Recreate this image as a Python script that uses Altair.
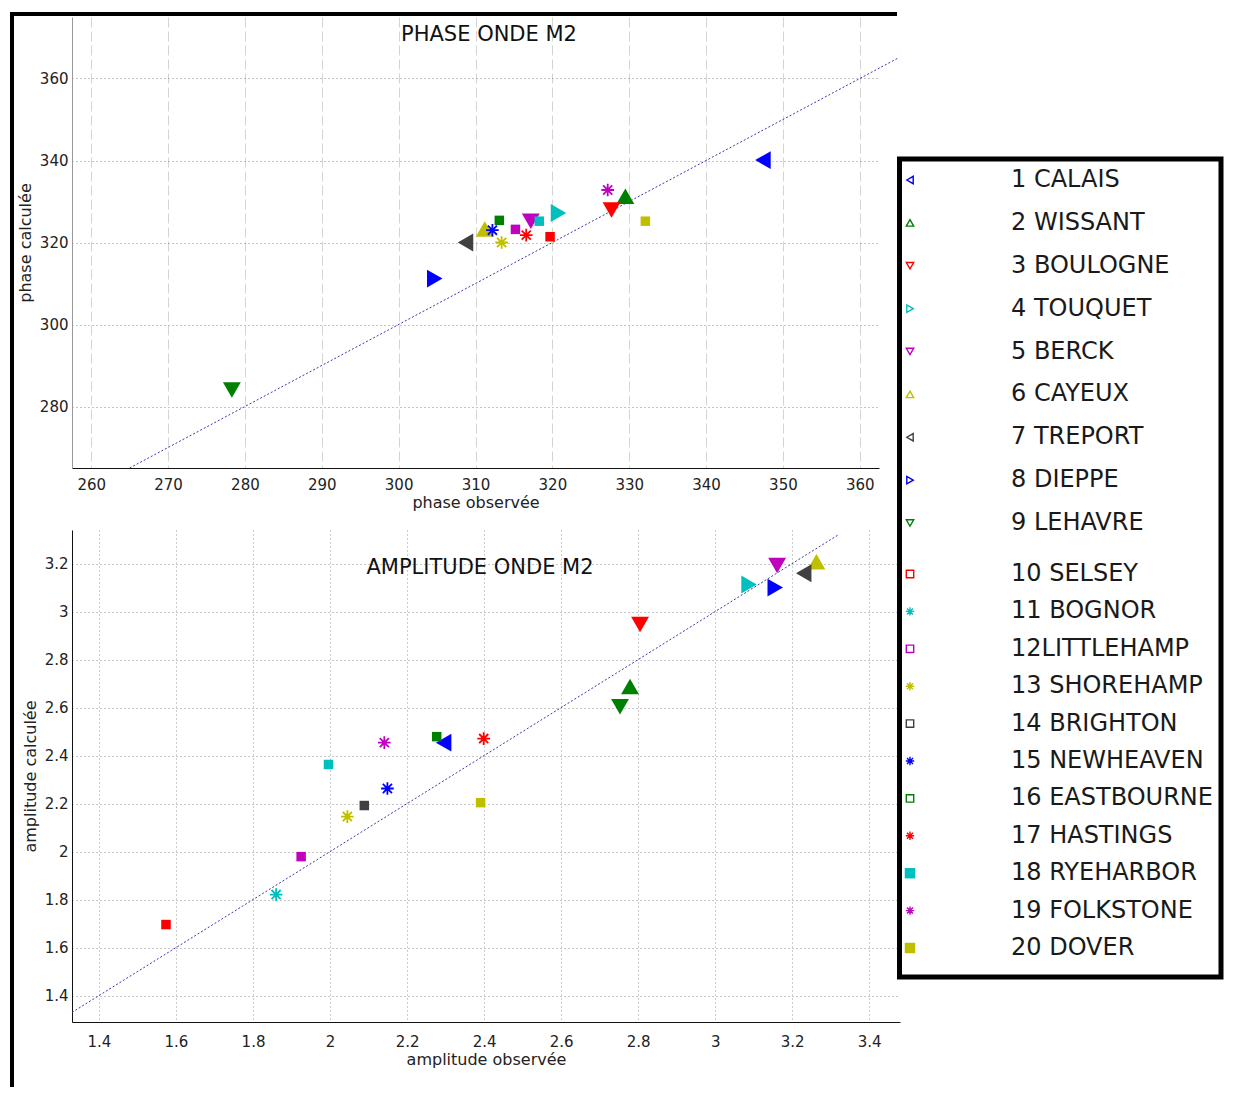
import altair as alt
import pandas as pd

# ---------------- data ----------------
stations = [
    "1 CALAIS", "2 WISSANT", "3 BOULOGNE", "4 TOUQUET", "5 BERCK",
    "6 CAYEUX", "7 TREPORT", "8 DIEPPE", "9 LEHAVRE", "10 SELSEY",
    "11 BOGNOR", "12LITTLEHAMP", "13 SHOREHAMP", "14 BRIGHTON", "15 NEWHEAVEN",
    "16 EASTBOURNE", "17 HASTINGS", "18 RYEHARBOR", "19 FOLKSTONE", "20 DOVER",
]
markers = [
    "triangle-left", "triangle-up", "triangle-down", "triangle-right", "triangle-down",
    "triangle-up", "triangle-left", "triangle-right", "triangle-down", "square",
    "asterisk", "square", "asterisk", "square", "asterisk",
    "square", "asterisk", "square", "asterisk", "square",
]
colors = [
    "#0000ff", "#008000", "#ff0000", "#00bfbf", "#bf00bf", "#bfbf00", "#404040",
    "#0000ff", "#008000", "#ff0000", "#00bfbf", "#bf00bf", "#bfbf00", "#404040",
    "#0000ff", "#008000", "#ff0000", "#00bfbf", "#bf00bf", "#bfbf00",
]
phase_observee = [347.4, 329.5, 327.7, 320.8, 317.2, 311.2, 308.7, 304.7, 278.3, 319.7,
                  None, 315.2, 313.4, None, 312.2, 313.1, 316.6, 318.3, 327.2, 332.1]
phase_calculee = [340.1, 331.3, 327.9, 327.2, 325.2, 323.3, 320.0, 311.2, 284.0, 321.4,
                  None, 323.2, 320.0, None, 323.0, 325.4, 321.8, 325.2, 332.8, 325.2]
amplitude_observee = [2.295, 2.779, 2.805, 3.088, 3.161, 3.263, 3.230, 3.156, 2.753, 1.574,
                      1.860, 1.925, 2.045, 2.089, 2.149, 2.277, 2.399, 1.996, 2.141, 2.391]
amplitude_calculee = [2.454, 2.688, 2.946, 3.113, 3.192, 3.208, 3.160, 3.100, 2.604, 1.696,
                      1.821, 1.979, 2.146, 2.192, 2.263, 2.479, 2.471, 2.363, 2.454, 2.204]
legend_filled = [False] * 17 + [True, False, True]

phase_x_ticks = [260, 270, 280, 290, 300, 310, 320, 330, 340, 350, 360]
phase_y_ticks = [280, 300, 320, 340, 360]
amp_x_ticks = [1.4, 1.6, 1.8, 2.0, 2.2, 2.4, 2.6, 2.8, 3.0, 3.2, 3.4]
amp_y_ticks = [1.4, 1.6, 1.8, 2.0, 2.2, 2.4, 2.6, 2.8, 3.0, 3.2]
phase_ref = [265, 365]
amp_ref = [1.33, 3.32]

ASTERISK = "M-1,0L1,0M0,-1L0,1M-0.72,-0.72L0.72,0.72M-0.72,0.72L0.72,-0.72"

df = pd.DataFrame({
    "station": stations,
    "marker": markers,
    "color": colors,
    "rank": list(range(1, len(stations) + 1)),
    "phase_obs": phase_observee,
    "phase_calc": phase_calculee,
    "amp_obs": amplitude_observee,
    "amp_calc": amplitude_calculee,
    "filled": legend_filled,
})
df["shape"] = [ASTERISK if m == "asterisk" else m for m in markers]
df["kind"] = ["tri" if m.startswith("triangle") else m for m in markers]

FONT = "DejaVu Sans"
one = pd.DataFrame({"t": [0]})


def panel(xf, yf, xdom, ydom, xvals, yvals, xtitle, ytitle, w, h, ref_vals,
          title, title_x, title_y, fmt, xgrid_color, xgrid_dash, ydomain_color,
          xlabel_pad, xtitle_pad, frame):
    x_enc = alt.X(f"{xf}:Q",
                  scale=alt.Scale(domain=xdom, nice=False, zero=False),
                  axis=alt.Axis(values=xvals, title=xtitle, format=fmt, grid=True,
                                gridColor=xgrid_color, gridDash=xgrid_dash,
                                ticks=False, labelPadding=xlabel_pad,
                                titlePadding=xtitle_pad, domainColor="#111",
                                labelFlush=False))
    y_enc = alt.Y(f"{yf}:Q",
                  scale=alt.Scale(domain=ydom, nice=False, zero=False),
                  axis=alt.Axis(values=yvals, title=ytitle, format=fmt, grid=True,
                                gridColor="#8a8a8a", gridDash=[1, 3],
                                ticks=False, labelPadding=4, titlePadding=6,
                                domainColor=ydomain_color, labelFlush=False))
    ref_df = pd.DataFrame({xf: ref_vals, yf: ref_vals})
    ref = alt.Chart(ref_df).mark_line(
        clip=False, color="#3838b0", strokeWidth=1, strokeDash=[2, 2]
    ).encode(x=x_enc, y=y_enc)
    base = alt.Chart(df).encode(x=x_enc, y=y_enc)
    tri = base.transform_filter(alt.datum.kind == "tri").mark_point(
        filled=True, opacity=1, size=320
    ).encode(shape=alt.Shape("shape:N", scale=None),
             color=alt.Color("color:N", scale=None))
    sq = base.transform_filter(alt.datum.kind == "square").mark_point(
        shape="square", filled=True, opacity=1, size=90
    ).encode(color=alt.Color("color:N", scale=None))
    ast = base.transform_filter(alt.datum.kind == "asterisk").mark_point(
        shape=ASTERISK, filled=False, opacity=1, size=160, strokeWidth=1.8
    ).encode(color=alt.Color("color:N", scale=None))
    ttl = alt.Chart(pd.DataFrame({"t": [title]})).mark_text(
        font=FONT, fontSize=21, color="#111", align="center", baseline="middle"
    ).encode(x=alt.value(title_x), y=alt.value(title_y), text="t:N")
    layers = [ref, tri, sq, ast, ttl]
    for (x1, x2, y1, y2, sw) in frame:
        enc = {"x": alt.value(x1), "y": alt.value(y1)}
        if x2 is not None:
            enc["x2"] = alt.value(x2)
        if y2 is not None:
            enc["y2"] = alt.value(y2)
        layers.append(alt.Chart(one).mark_rule(color="#000", strokeWidth=sw).encode(**enc))
    return alt.layer(*layers).properties(width=w, height=h)


top = panel("phase_obs", "phase_calc", [257.5, 362.5], [265, 375],
            phase_x_ticks, phase_y_ticks, "phase observée", "phase calculée",
            807, 451, phase_ref, "PHASE ONDE M2", 417, 18, "d",
            "#d4d4d4", [10, 4], "#999999", 9, 2,
            [(-62, 825, -3, None, 4), (-60, None, -5, 513, 4)])

bottom = panel("amp_obs", "amp_calc", [1.33, 3.48], [1.29, 3.34],
               amp_x_ticks, amp_y_ticks, "amplitude observée", "amplitude calculée",
               828, 492, amp_ref, "AMPLITUDE ONDE M2", 408, 38, "~g",
               "#9a9a9a", [1, 3], "#111", 12, 2,
               [(-60, None, 0, 557, 4)])

left = alt.vconcat(top, bottom, spacing=62, bounds="flush")

# ---------------- legend ----------------
row_y = alt.Y("rank:Q", scale=alt.Scale(domain=[1, 9, 10, 20], range=[163, 506, 557, 931]),
              axis=None)
lbase = alt.Chart(df).encode(y=row_y)
box = alt.Chart(one).mark_rect(fill="white", stroke="#000", strokeWidth=5).encode(
    x=alt.value(1.5), x2=alt.value(323), y=alt.value(142), y2=alt.value(960))
l_open = lbase.transform_filter(
    (alt.datum.kind != "asterisk") & (alt.datum.filled == False)
).mark_point(filled=False, opacity=1, size=55, strokeWidth=1.4).encode(
    x=alt.value(12), shape=alt.Shape("shape:N", scale=None),
    color=alt.Color("color:N", scale=None))
l_fill = lbase.transform_filter(alt.datum.filled == True).mark_point(
    filled=True, opacity=1, size=110, shape="square").encode(
    x=alt.value(12), color=alt.Color("color:N", scale=None))
l_ast = lbase.transform_filter(alt.datum.kind == "asterisk").mark_point(
    filled=False, opacity=1, size=70, strokeWidth=1.4, shape=ASTERISK).encode(
    x=alt.value(12), color=alt.Color("color:N", scale=None))
l_text = lbase.mark_text(font=FONT, fontSize=24, color="#1a1a1a", align="left",
                         baseline="middle").encode(x=alt.value(113), text="station:N")
legend = alt.layer(box, l_open, l_fill, l_ast, l_text).properties(width=325, height=962)

chart = alt.hconcat(left, legend, spacing=826, bounds="flush").properties(
    padding={"left": 0, "top": 2, "right": 5, "bottom": 0}
).configure_view(stroke=None).configure_axis(
    labelFont=FONT, labelFontSize=15, labelColor="#222",
    titleFont=FONT, titleFontSize=16, titleFontWeight="normal", titleColor="#222",
)

chart.save("out.html", embed_options={"renderer": "svg", "actions": False})
